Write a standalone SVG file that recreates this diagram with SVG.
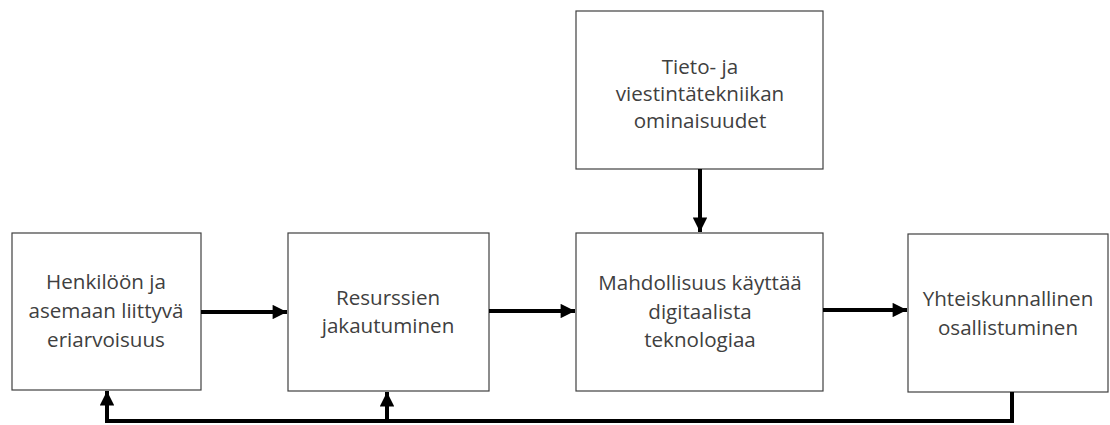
<svg xmlns="http://www.w3.org/2000/svg" width="1110" height="425" viewBox="0 0 1110 425">
<style>
.box{fill:#fff;stroke:#404040;stroke-width:1.2}
.t{font-family:"Open Sans","Liberation Sans",sans-serif;font-size:20.6px;fill:#404040;text-anchor:middle}
.c{fill:none;stroke:#000;stroke-width:4}
</style>
<defs>
<marker id="ah" viewBox="0 0 10 10" refX="10" refY="5" markerWidth="3.8" markerHeight="3.6" orient="auto" markerUnits="strokeWidth">
<path d="M0,0 L10,5 L0,10 Z" fill="#000"/>
</marker>
</defs>
<g id="n1"><rect class="box" x="12" y="233" width="189" height="157"/>
<text class="t" x="106" y="289">Henkilöön ja</text>
<text class="t" x="106" y="318">asemaan liittyvä</text>
<text class="t" x="106" y="347">eriarvoisuus</text></g>
<g id="n2"><rect class="box" x="288" y="233" width="201" height="158"/>
<text class="t" x="388" y="305">Resurssien</text>
<text class="t" x="388" y="333">jakautuminen</text></g>
<g id="n3"><rect class="box" x="576" y="233" width="247" height="158"/>
<text class="t" x="700" y="290">Mahdollisuus käyttää</text>
<text class="t" x="700" y="319">digitaalista</text>
<text class="t" x="700" y="347">teknologiaa</text></g>
<g id="n4"><rect class="box" x="908" y="234" width="200" height="158"/>
<text class="t" x="1008" y="306">Yhteiskunnallinen</text>
<text class="t" x="1008" y="335">osallistuminen</text></g>
<g id="n5"><rect class="box" x="576" y="11" width="247" height="158"/>
<text class="t" x="700" y="74">Tieto- ja</text>
<text class="t" x="700" y="101">viestintätekniikan</text>
<text class="t" x="700" y="128">ominaisuudet</text></g>
<g id="connectors">
<path class="c" d="M201,312 H287" marker-end="url(#ah)"/>
<path class="c" d="M489,311 H575" marker-end="url(#ah)"/>
<path class="c" d="M823,310 H907" marker-end="url(#ah)"/>
<path class="c" d="M700,169 V232" marker-end="url(#ah)"/>
<path class="c" d="M1012,392 V421 H107 V391" marker-end="url(#ah)"/>
<path class="c" d="M387,421 V392" marker-end="url(#ah)"/>
</g>
</svg>
